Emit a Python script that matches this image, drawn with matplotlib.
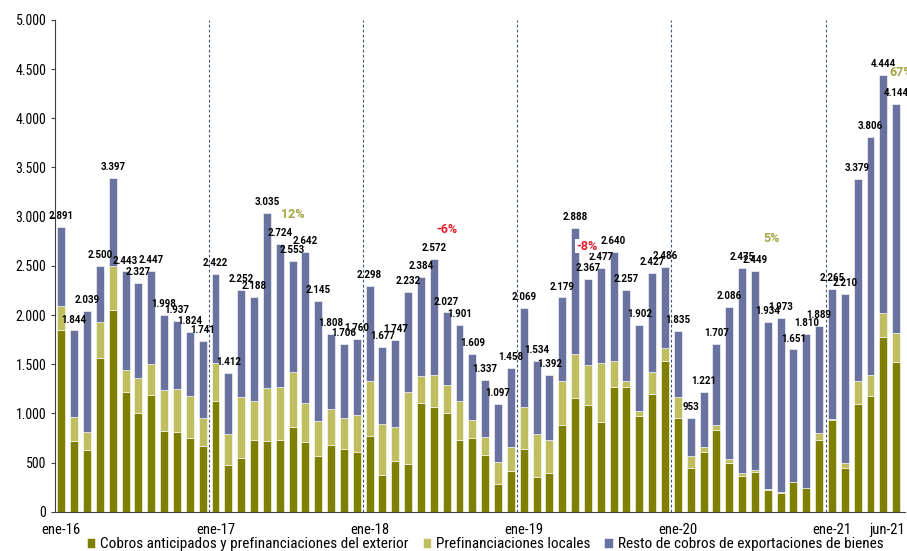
import matplotlib
matplotlib.use("Agg")
import matplotlib.pyplot as plt
import matplotlib.transforms as mtransforms
from matplotlib import font_manager
from matplotlib.ticker import FuncFormatter

# monthly data, ene-16 .. jun-21 (millones USD)
totals = [2891, 1844, 2039, 2500, 3397, 2443, 2327, 2447, 1998, 1937, 1824, 1741,
          2422, 1412, 2252, 2188, 3035, 2724, 2553, 2642, 2145, 1808, 1706, 1760,
          2298, 1677, 1747, 2232, 2384, 2572, 2027, 1901, 1609, 1337, 1097, 1458,
          2069, 1534, 1392, 2179, 2888, 2367, 2477, 2640, 2257, 1902, 2427, 2486,
          1835, 953, 1221, 1707, 2086, 2475, 2449, 1934, 1973, 1651, 1810, 1889,
          2265, 2210, 3379, 3806, 4444, 4144]

cobros_ext = [1850, 722, 630, 1565, 2049, 1216, 1009, 1192, 823, 813, 752, 674,
              1131, 478, 552, 728, 722, 728, 867, 711, 569, 681, 637, 610,
              766, 376, 518, 484, 1108, 1070, 1009, 732, 752, 576, 285, 417,
              640, 356, 393, 884, 1162, 1087, 911, 1270, 1264, 976, 1199, 1531,
              955, 447, 610, 833, 501, 362, 403, 227, 196, 300, 240, 735,
              935, 450, 1101, 1182, 1778, 1524]

prefin_loc = [243, 240, 183, 362, 451, 227, 349, 312, 420, 437, 427, 278,
              380, 315, 617, 400, 535, 546, 559, 400, 359, 362, 318, 376,
              569, 518, 349, 736, 277, 322, 278, 396, 186, 186, 223, 240,
              427, 437, 339, 444, 440, 407, 603, 265, 64, 50, 227, 136,
              214, 122, 47, 51, 38, 28, 24, 7, 5, 5, 5, 64,
              7, 51, 227, 210, 238, 292]

resto = [t - a - b for t, a, b in zip(totals, cobros_ext, prefin_loc)]

tick_labels = ["ene-16", "ene-17", "ene-18", "ene-19", "ene-20", "ene-21", "jun-21"]
tick_idx = [0, 12, 24, 36, 48, 60, 65]

# year-on-year notes: (month index, height, text, colour)
notes = [(18.0, 3020, "12%", "#a3a543"),
         (30.0, 2870, "-6%", "#ee1c2a"),
         (40.9, 2700, "-8%", "#ee1c2a"),
         (55.3, 2775, "5%", "#a3a543"),
         (65.4, 4460, "67%", "#a3a543")]

C_DARK = "#7f7f00"
C_LIGHT = "#bfbf62"
C_BLUE = "#6a73a0"


def pick_font(cands):
    for f in cands:
        try:
            font_manager.findfont(f, fallback_to_default=False)
            return f
        except Exception:
            pass
    return "DejaVu Sans"


font = pick_font(["Liberation Sans Narrow", "Roboto Condensed", "Roboto", "Liberation Sans"])
plt.rcParams["font.family"] = [font, "DejaVu Sans"]

fig = plt.figure(figsize=(9.07, 5.51), dpi=100)
ax = fig.add_axes([0.061, 0.071, 0.937, 0.893])

x = list(range(len(totals)))
w = 0.62
ax.bar(x, cobros_ext, w, color=C_DARK, edgecolor="white", linewidth=0.4,
       label="Cobros anticipados y prefinanciaciones del exterior")
ax.bar(x, prefin_loc, w, bottom=cobros_ext, color=C_LIGHT, edgecolor="white", linewidth=0.4,
       label="Prefinanciaciones locales")
base2 = [a + b for a, b in zip(cobros_ext, prefin_loc)]
ax.bar(x, resto, w, bottom=base2, color=C_BLUE, edgecolor="white", linewidth=0.4,
       label="Resto de cobros de exportaciones de bienes")

fmt = lambda v: f"{v:,.0f}".replace(",", ".")

for i, t in enumerate(totals):
    ax.text(i, t + 60, fmt(t), ha="center", va="bottom", fontsize=7,
            fontweight="bold", color="black", family=["Roboto", "DejaVu Sans"])

# separators between years
for s in [11.5, 23.5, 35.5, 47.5, 59.5]:
    ax.axvline(s, color="#44546a", linestyle=(0, (2.5, 2)), linewidth=0.8)

for xi, yi, txt, col in notes:
    box = None
    if txt in ("-8%", "67%"):
        box = dict(facecolor="white", edgecolor="none", pad=0.5)
    ax.text(xi, yi, txt, ha="center", va="center", fontsize=9, fontweight="bold",
            color=col, bbox=box, family=["Roboto", "DejaVu Sans"], clip_on=False)

ax.set_xlim(-0.47, 65.7)
ax.set_ylim(0, 5000)
ax.set_yticks(range(0, 5001, 500))
ax.yaxis.set_major_formatter(FuncFormatter(lambda v, p: fmt(v)))
ax.set_xticks(tick_idx)
ax.set_xticklabels(tick_labels)
ax.tick_params(axis="x", length=0, labelsize=10.5, pad=8)
ax.tick_params(axis="y", length=3, labelsize=10, color="#404040")
# last label sits a bit left of its bar, like the original
last = ax.get_xticklabels()[-1]
last.set_transform(last.get_transform() + mtransforms.ScaledTranslation(-9 / 100, 0, fig.dpi_scale_trans))
for sp in ["top", "right"]:
    ax.spines[sp].set_visible(False)
ax.spines["left"].set_color("#404040")
ax.spines["bottom"].set_color("#404040")

fig.legend(loc="center", bbox_to_anchor=(0.535, 0.012), ncol=3, frameon=False,
           fontsize=11, handlelength=0.55, handleheight=0.55, handletextpad=0.35,
           columnspacing=0.9, borderaxespad=0, borderpad=0)

fig.savefig("out.png", dpi=100)
